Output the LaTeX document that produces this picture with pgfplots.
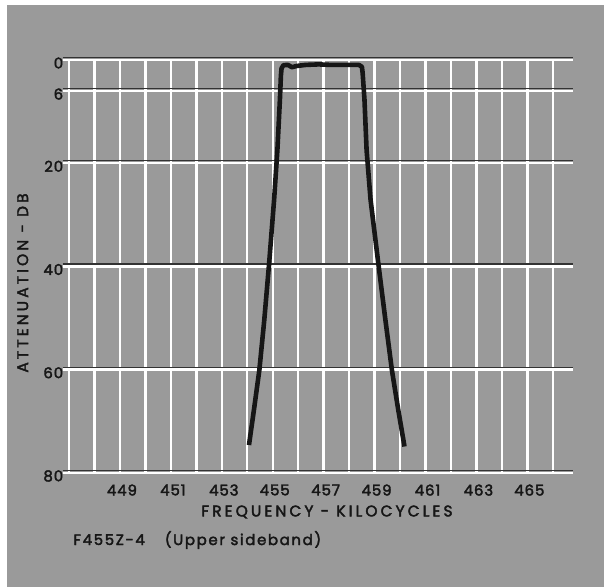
\documentclass[border=0pt]{standalone}
\usepackage{fontspec}
\setmainfont{Poppins}
\newfontfamily\lblfam{Poppins}[FakeBold=2.5, LetterSpace=20]
\newfontfamily\tickfam{Poppins}[FakeBold=2.5, LetterSpace=6]
\newfontfamily\notefam{Poppins}[FakeBold=2.5, LetterSpace=11]
\usepackage{pgfplots}
\pgfplotsset{compat=1.18}
\usetikzlibrary{backgrounds}
\definecolor{halftone}{HTML}{9A9A9A}
\definecolor{ink}{HTML}{161616}
\newcommand{\lblfont}{\lblfam\fontsize{15.5}{17}\selectfont}
\newcommand{\tickfont}{\tickfam\fontsize{15}{17}\selectfont}
\newcommand{\notefont}{\notefam\fontsize{15}{17}\selectfont}
\begin{document}
\begin{tikzpicture}
\begin{axis}[
  name=ax,
  clip=false,
  scale only axis,
  width=510.5bp, height=413bp,
  xmin=446.75, xmax=466.8,
  ymin=0, ymax=80, y dir=reverse,
  axis line style={draw=none},
  major tick length=0pt, minor tick length=0pt,
  xtick={449,451,...,465},
  minor xtick={447,448,...,466},
  ytick={0,6,20,40,60,80},
  xmajorgrids, xminorgrids, ymajorgrids,
  major grid style={white, line width=2.5bp},
  minor grid style={white, line width=2.4bp},
  extra y ticks={0,6,20,40,60,80},
  extra y tick labels={},
  extra y tick style={grid=major, major grid style={black!80, line width=1.1bp, yshift=2.5bp}},
  /pgf/number format/assume math mode=true,
  /pgf/number format/1000 sep={},
  tick label style={font=\tickfont, text=ink},
  xticklabel style={yshift=-8bp, xshift=2bp},
  yticklabel style={xshift=4bp, yshift=-3bp},
  xlabel={FREQUENCY - KILOCYCLES},
  xlabel style={at={(axis description cs:0.5177,-0.0944)}, anchor=center, font=\lblfont, text=ink},
  ylabel={ATTENUATION - DB},
  ylabel style={at={(axis description cs:-0.0784,0.46)}, anchor=center, font=\lblfont, text=ink},
]
\coordinate (TL) at (axis cs:446.75,0);
\addplot[ink, line width=4.6bp, line join=round, line cap=butt] coordinates {
(454.066,74.58) (454.26,67.80) (454.474,60.05) (454.667,50.36) (454.852,39.71)
(455.052,27.12) (455.182,17.43) (455.280,7.75) (455.32,3.0) (455.346,1.6)
(455.42,1.0) (455.6,0.95) (455.75,1.4) (455.95,1.15) (456.3,0.95) (456.8,0.85)
(457.3,0.95) (457.9,0.95) (458.38,0.95) (458.50,1.3) (458.53,2.5) (458.603,7.75)
(458.685,17.43) (458.842,27.12) (459.149,39.54) (459.420,50.19) (459.679,60.05)
(459.93,67.80) (460.174,74.87)
};
\node[anchor=west, font=\notefont, text=ink] at (axis description cs:0.0143,-0.1622) {F455Z-4\hspace{20bp}(Upper sideband)};
\end{axis}
\begin{pgfonlayer}{background}
\fill[white] ([xshift=-62.7bp,yshift=60bp]TL) rectangle ++(604bp,-587bp);
\fill[halftone] ([xshift=-55.7bp,yshift=55bp]TL) rectangle ([xshift=541.3bp,yshift=-527bp]TL);
\end{pgfonlayer}
\pgfresetboundingbox
\path[use as bounding box] ([xshift=-62.7bp,yshift=60bp]TL) rectangle ++(604bp,-587bp);
\end{tikzpicture}
\end{document}
